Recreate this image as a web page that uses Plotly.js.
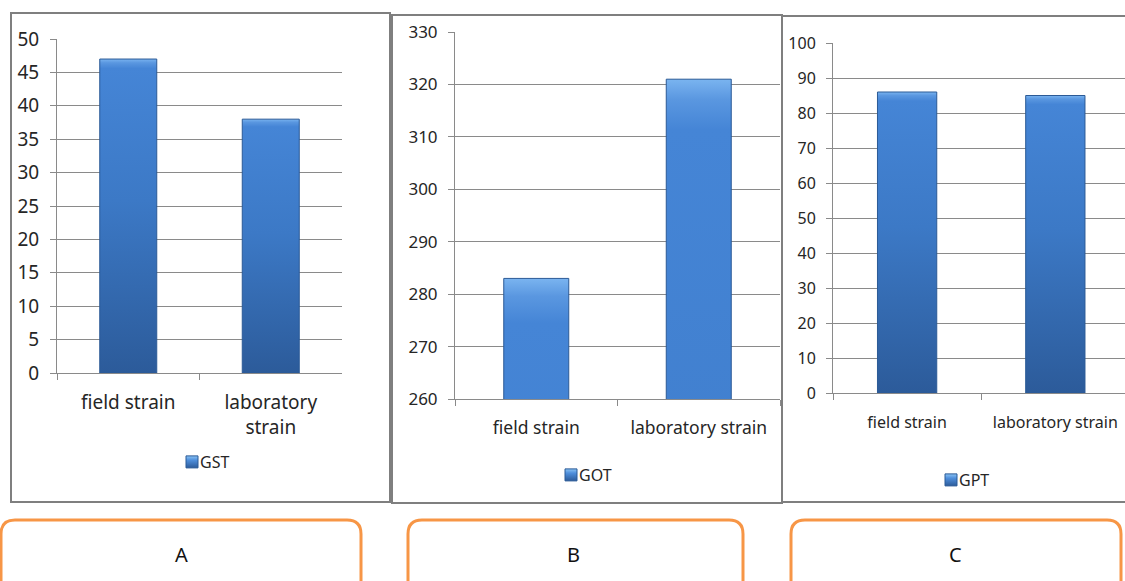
<!DOCTYPE html>
<html>
<head>
<meta charset="utf-8">
<script src="https://cdn.plot.ly/plotly-3.0.1.min.js"></script>
<style>
  html, body { margin: 0; padding: 0; background: #ffffff; }
  #chart { width: 1125px; height: 581px; }
  /* bevelled blue shading for bars and legend swatches */
  #chart .barlayer .point path { fill: url(#barShade) !important; }
  #chart .legendpoints path { fill: url(#swatchShade) !important; }
  /* legend labels sit right beside their swatch */
  #chart g.legend text,
  #chart g.legend2 text,
  #chart g.legend3 text { transform: translateX(-12px); }
</style>
</head>
<body>
<svg width="0" height="0" style="position:absolute">
  <defs>
    <linearGradient id="barShade" x1="0" y1="0" x2="0" y2="1">
      <stop offset="0" stop-color="#7ab4f0"/>
      <stop offset="0.012" stop-color="#5a97e0"/>
      <stop offset="0.03" stop-color="#4585d6"/>
      <stop offset="0.45" stop-color="#3c79c6"/>
      <stop offset="1" stop-color="#2c5b9a"/>
    </linearGradient>
    <linearGradient id="swatchShade" x1="0" y1="0" x2="0" y2="1">
      <stop offset="0" stop-color="#8cc4f4"/>
      <stop offset="0.35" stop-color="#4f8fdc"/>
      <stop offset="1" stop-color="#2c5b9a"/>
    </linearGradient>
  </defs>
</svg>
<div id="chart"></div>
<script>
// Enzyme activity, field strain vs laboratory strain
const categories = ['field strain', 'laboratory strain'];
const labelsA = ['field strain', 'laboratory<br>strain'];
const gstValues = [47, 38];
const gotValues = [283, 321];
const gptValues = [86, 85];
const seriesNames = ['GST', 'GOT', 'GPT'];
const panelLetters = ['A', 'B', 'C'];

const W = 1125, H = 581;
const px = x => x / W;
const py = y => 1 - y / H;

const GRID = '#8a8a8a';
const TXT = '#262626';
const FONT = 'Noto Sans, Open Sans, sans-serif';

function barTrace(x, y, name, xa, ya, leg) {
  return {
    type: 'bar', x: x, y: y, name: name,
    xaxis: xa, yaxis: ya, legend: leg, showlegend: true,
    width: 0.4,
    marker: { color: '#3b76c2', line: { color: '#2b5a96', width: 1 } },
    hoverinfo: 'x+y'
  };
}

function xAxis(domain, range, size, standoff, anchor) {
  return {
    domain: domain, type: 'category', range: range, anchor: anchor,
    showline: true, linecolor: GRID, linewidth: 1,
    ticks: 'outside', tickson: 'boundaries', ticklen: 6, tickcolor: GRID,
    showgrid: false, zeroline: false, fixedrange: true,
    tickfont: { family: FONT, size: size, color: TXT },
    ticklabelstandoff: standoff
  };
}
function yAxis(domain, range, dtick, size, anchor) {
  return {
    domain: domain, range: range, dtick: dtick, anchor: anchor,
    showline: true, linecolor: GRID, linewidth: 1,
    ticks: 'outside', ticklen: 6, tickcolor: GRID,
    showgrid: true, gridcolor: GRID, gridwidth: 1, zeroline: false,
    fixedrange: true,
    tickfont: { family: FONT, size: size, color: TXT },
    ticklabelstandoff: 7
  };
}

function roundBox(x0, y0, x1, y1, r) {
  const p = (x, y) => px(x) + ',' + py(y);
  return 'M' + p(x0, y1) + ' L' + p(x0, y0 + r) + ' Q' + p(x0, y0) + ' ' + p(x0 + r, y0) +
    ' L' + p(x1 - r, y0) + ' Q' + p(x1, y0) + ' ' + p(x1, y0 + r) + ' L' + p(x1, y1);
}

function legendAt(x, y, size) {
  return {
    x: px(x), y: py(y), xanchor: 'left', yanchor: 'middle',
    orientation: 'h', bgcolor: 'rgba(0,0,0,0)',
    font: { family: FONT, size: size, color: TXT },
    itemwidth: 30, tracegroupgap: 0
  };
}

const data = [
  barTrace(labelsA, gstValues, seriesNames[0], 'x', 'y', 'legend'),
  barTrace(categories, gotValues, seriesNames[1], 'x2', 'y2', 'legend2'),
  barTrace(categories, gptValues, seriesNames[2], 'x3', 'y3', 'legend3')
];

const frame = { color: '#7f7f7f', width: 2 };
const orange = { color: '#f79646', width: 3 };
const letterFont = { family: FONT, size: 20, color: '#111' };

const layout = {
  width: W, height: H,
  margin: { l: 0, r: 0, t: 0, b: 0, pad: 0 },
  paper_bgcolor: '#ffffff', plot_bgcolor: 'rgba(0,0,0,0)',
  font: { family: FONT, color: TXT },
  xaxis: xAxis([px(57), px(342)], [-0.5, 1.5], 19, 12, 'y'),
  yaxis: yAxis([py(373), py(39)], [0, 50], 5, 19, 'x'),
  xaxis2: xAxis([px(455), px(780)], [-0.5, 1.5], 17.5, 13, 'y2'),
  yaxis2: yAxis([py(399), py(32)], [260, 330], 10, 17, 'x2'),
  xaxis3: xAxis([px(833), 1], [-0.5, 1.47], 16, 15, 'y3'),
  yaxis3: yAxis([py(393), py(43)], [0, 100], 10, 16, 'x3'),
  legend: legendAt(172, 462, 16),
  legend2: legendAt(551, 475, 16),
  legend3: legendAt(931, 480, 16),
  shapes: [
    { type: 'rect', xref: 'paper', yref: 'paper', x0: px(11), x1: px(390), y0: py(502), y1: py(13), line: frame, layer: 'below' },
    { type: 'rect', xref: 'paper', yref: 'paper', x0: px(392), x1: px(782), y0: py(503), y1: py(15), line: frame, layer: 'below' },
    { type: 'rect', xref: 'paper', yref: 'paper', x0: px(782), x1: px(1140), y0: py(502), y1: py(16), line: frame, layer: 'below' },
    { type: 'path', xref: 'paper', yref: 'paper', path: roundBox(1, 520, 361, 600, 14), line: orange },
    { type: 'path', xref: 'paper', yref: 'paper', path: roundBox(408, 520, 743, 600, 14), line: orange },
    { type: 'path', xref: 'paper', yref: 'paper', path: roundBox(791, 520, 1121, 600, 14), line: orange }
  ],
  annotations: panelLetters.map((t, i) => ({
    text: t, xref: 'paper', yref: 'paper', x: px([181, 573, 955][i]), y: py(554),
    xanchor: 'center', yanchor: 'middle', showarrow: false, font: letterFont
  }))
};

Plotly.newPlot('chart', data, layout, { staticPlot: true, displayModeBar: false });
</script>
</body>
</html>
